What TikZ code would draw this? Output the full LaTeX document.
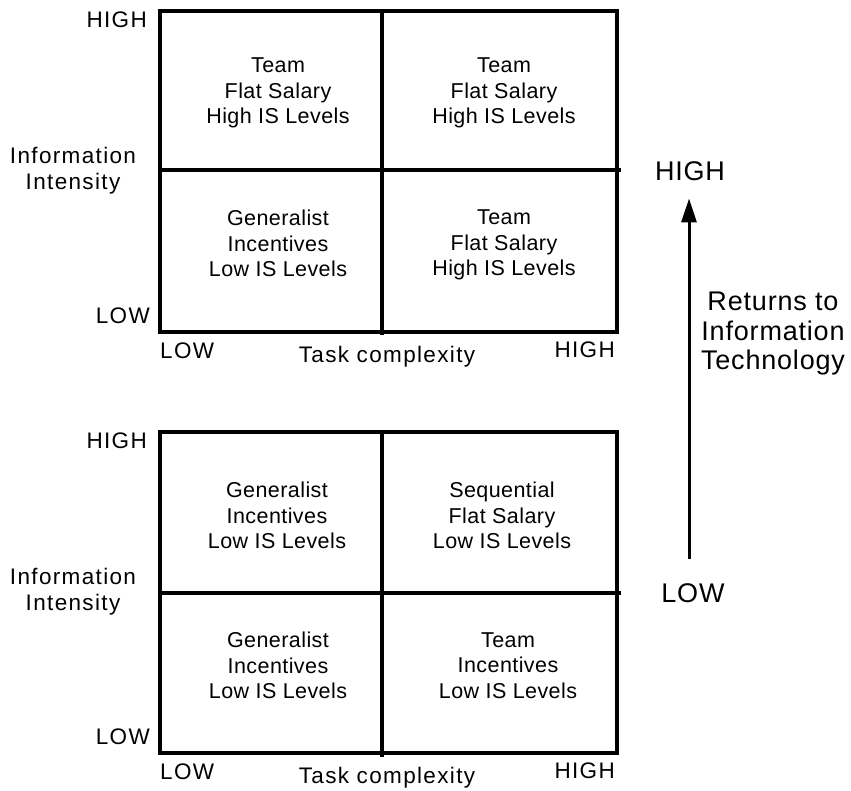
\documentclass[tikz,border=0pt]{standalone}
\usepackage{fontspec}
\setmainfont{Liberation Sans}
\newfontfamily\axisfont[LetterSpace=6]{Liberation Sans}
\newfontfamily\cellfont[LetterSpace=2]{Liberation Sans}
\newfontfamily\sidefont[LetterSpace=3]{Liberation Sans}
\usetikzlibrary{arrows.meta}
\tikzset{
  gridline/.style={line width=3.2pt, line cap=rect},
  cell/.style={inner sep=0pt, anchor=north, align=center,
    font=\cellfont\fontsize{21.5}{25.5}\selectfont},
  axis/.style={inner sep=0pt, font=\axisfont\fontsize{22.5}{26}\selectfont},
  side/.style={inner sep=0pt, font=\sidefont\fontsize{27}{29.5}\selectfont},
}
\begin{document}
\begin{tikzpicture}[x=1pt, y=-1pt]
\useasboundingbox (0,0) rectangle (851,790);

% ---------- upper matrix ----------
\coordinate (a-nw) at (160,11);
\coordinate (a-se) at (617,332);
\coordinate (a-ml) at (160,170);
\coordinate (a-mr) at (621,170);
\coordinate (a-mt) at (382,11);
\coordinate (a-mb) at (382,335);
\draw[gridline] (a-nw) rectangle (a-se);
\draw[gridline, line cap=butt] (a-ml) -- (a-mr);
\draw[gridline, line cap=butt] (a-mt) -- (a-mb);

\node[cell] (a-tl) at (278,58)  {Team\\Flat Salary\\High IS Levels};
\node[cell] (a-tr) at (504,58)  {Team\\Flat Salary\\High IS Levels};
\node[cell] (a-bl) at (278,210) {Generalist\\Incentives\\Low IS Levels};
\node[cell] (a-br) at (504,210) {Team\\Flat Salary\\High IS Levels};

\node[axis, anchor=base east] (a-yhi) at (147,27) {HIGH};
\node[axis, anchor=north, align=center] (a-ylab) at (73,147) {Information\\Intensity};
\node[axis, anchor=base east] (a-ylo) at (150,323) {LOW};
\node[axis, anchor=base west] (a-xlo) at (160,358) {LOW};
\node[axis, anchor=base] (a-xlab) at (387,362) {Task complexity};
\node[axis, anchor=base east] (a-xhi) at (615,357) {HIGH};

% ---------- lower matrix ----------
\coordinate (b-nw) at (160,432);
\coordinate (b-se) at (617,753);
\coordinate (b-ml) at (160,593);
\coordinate (b-mr) at (621,593);
\coordinate (b-mt) at (382,432);
\coordinate (b-mb) at (382,757);
\draw[gridline] (b-nw) rectangle (b-se);
\draw[gridline, line cap=butt] (b-ml) -- (b-mr);
\draw[gridline, line cap=butt] (b-mt) -- (b-mb);

\node[cell] (b-tl) at (277,482) {Generalist\\Incentives\\Low IS Levels};
\node[cell] (b-tr) at (502,482) {Sequential\\Flat Salary\\Low IS Levels};
\node[cell] (b-bl) at (278,632) {Generalist\\Incentives\\Low IS Levels};
\node[cell] (b-br) at (508,632) {Team\\Incentives\\Low IS Levels};

\node[axis, anchor=base east] (b-yhi) at (147,448) {HIGH};
\node[axis, anchor=north, align=center] (b-ylab) at (73,568) {Information\\Intensity};
\node[axis, anchor=base east] (b-ylo) at (150,744) {LOW};
\node[axis, anchor=base west] (b-xlo) at (160,779) {LOW};
\node[axis, anchor=base] (b-xlab) at (387,783) {Task complexity};
\node[axis, anchor=base east] (b-xhi) at (615,778) {HIGH};

% ---------- returns to IT axis ----------
\coordinate (r-x) at (689,0);
\node[side, anchor=base] (r-hi) at (690,180) {HIGH};
\node[side, anchor=base] (r-lo) at (693,602) {LOW};
\node[side, anchor=north, align=center] (r-lab) at (773,292)
  {Returns to\\Information\\Technology};
\draw[line width=3pt, -{Triangle[length=24pt, width=15pt]},
      shorten <=24pt, shorten >=18pt]
  (r-lo.north -| r-x) -- (r-hi.south -| r-x);
\end{tikzpicture}
\end{document}
